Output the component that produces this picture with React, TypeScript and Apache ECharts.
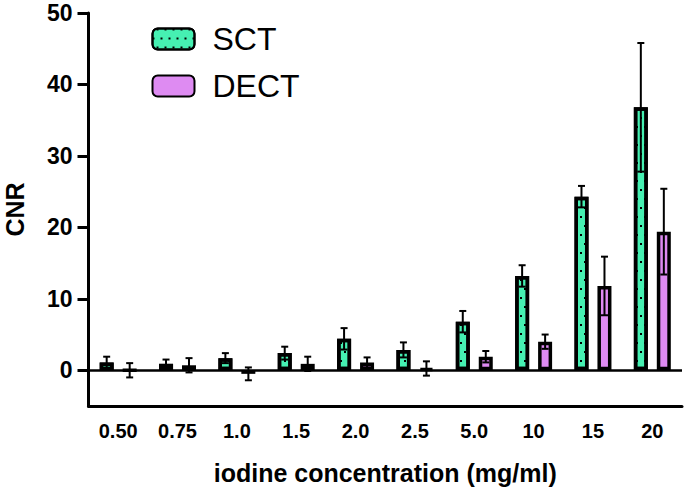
import React, { useEffect, useRef } from "react";
import * as echarts from "echarts";

const categories = ["0.50", "0.75", "1.0", "1.5", "2.0", "2.5", "5.0", "10", "15", "20"];
const sctMean = [1.1, 0.9, 1.7, 2.4, 4.4, 2.85, 6.8, 13.2, 24.3, 36.8];
const sctSd = [0.8, 0.6, 0.7, 0.9, 1.5, 1.05, 1.5, 1.5, 1.5, 9.0];
const dectMean = [0.0, 0.7, -0.5, 0.9, 1.1, 0.25, 1.9, 4.0, 11.8, 19.4];
const dectSd = [1.0, 1.0, 0.9, 1.0, 0.7, 1.0, 0.8, 1.0, 4.1, 6.0];
const yTicks = [0, 10, 20, 30, 40, 50];

const FONT = "'Liberation Sans', Arial, Helvetica, sans-serif";
const GREEN = "#46F0B2";
const PURPLE = "#DE8BF2";
const BAR_W = 14;
const OFFSET = 11.5;

function errorSeries(name: string, means: number[], sds: number[], dir: number) {
  return {
    name: name + "-err",
    type: "custom",
    z: 5,
    silent: true,
    renderItem: (params: any, api: any) => {
      const xi = api.value(0);
      const m = api.value(1);
      const s = api.value(2);
      const top = api.coord([xi, m + s]);
      const bot = api.coord([xi, m - s]);
      const x = top[0] + dir * OFFSET;
      const cap = 3.5;
      const st = { stroke: "#000", lineWidth: 2 };
      return {
        type: "group",
        children: [
          { type: "line", shape: { x1: x, y1: top[1], x2: x, y2: bot[1] }, style: st },
          { type: "line", shape: { x1: x - cap, y1: top[1], x2: x + cap, y2: top[1] }, style: st },
          { type: "line", shape: { x1: x - cap, y1: bot[1], x2: x + cap, y2: bot[1] }, style: st },
        ],
      };
    },
    data: means.map((v, i) => [i, v, sds[i]]),
  };
}

export default function App() {
  const ref = useRef<HTMLDivElement>(null);
  useEffect(() => {
    const chart = echarts.init(ref.current!, null, { renderer: "svg" });
    chart.setOption({
      animation: false,
      textStyle: { fontFamily: FONT },
      grid: { left: 88.5, right: 3, top: 13, bottom: 87, containLabel: false, outerBoundsMode: "none" },
      legend: {
        orient: "vertical",
        left: 146.5,
        top: 18,
        itemWidth: 42,
        itemHeight: 21,
        itemGap: 15,
        data: ["SCT", "DECT"],
        textStyle: { fontSize: 32, color: "#000", fontFamily: FONT, lineHeight: 24, padding: [0, 0, 0, 13] },
      },
      xAxis: {
        type: "category",
        data: categories,
        axisLine: { onZero: false, lineStyle: { color: "#000", width: 3 } },
        axisTick: { alignWithLabel: true, length: 7, lineStyle: { color: "#000", width: 3 } },
        axisLabel: { fontSize: 20, fontWeight: "bold", color: "#000", margin: 15, fontFamily: FONT },
        name: "iodine concentration (mg/ml)",
        nameLocation: "middle",
        nameGap: 54,
        nameTextStyle: { fontSize: 25, fontWeight: "bold", color: "#000", fontFamily: FONT },
      },
      yAxis: {
        type: "value",
        min: -5,
        max: 50,
        splitLine: { show: false },
        axisLine: { show: true, lineStyle: { color: "#000", width: 3 } },
        axisTick: { show: true, length: 11, customValues: yTicks, lineStyle: { color: "#000", width: 3 } },
        axisLabel: { fontSize: 23, fontWeight: "bold", color: "#000", margin: 16, customValues: yTicks, fontFamily: FONT },
        name: "CNR",
        nameLocation: "middle",
        nameGap: 61,
        nameTextStyle: { fontSize: 25, fontWeight: "bold", color: "#000", fontFamily: FONT },
      },
      series: [
        {
          name: "SCT",
          type: "bar",
          barWidth: BAR_W,
          barGap: "64%",
          data: sctMean,
          itemStyle: {
            color: GREEN,
            borderColor: "#000",
            borderWidth: 3.5,
            decal: {
              symbol: "rect",
              symbolSize: 1,
              color: "#000",
              dashArrayX: [[1.5, 5.5], [0, 3.5, 1.5, 2]],
              dashArrayY: [1.5, 6.5],
            },
          },
          markLine: {
            silent: true,
            symbol: "none",
            label: { show: false },
            lineStyle: { color: "#000", width: 2.5, type: "solid" },
            data: [{ yAxis: 0 }],
          },
        },
        {
          name: "DECT",
          type: "bar",
          barWidth: BAR_W,
          barGap: "64%",
          data: dectMean,
          itemStyle: { color: PURPLE, borderColor: "#000", borderWidth: 3.5 },
        },
        errorSeries("SCT", sctMean, sctSd, -1),
        errorSeries("DECT", dectMean, dectSd, 1),
      ],
    });
    return () => chart.dispose();
  }, []);
  return (
    <div
      ref={ref}
      style={{ position: "fixed", left: 0, top: 0, width: 685, height: 493, background: "#fff" }}
    />
  );
}
